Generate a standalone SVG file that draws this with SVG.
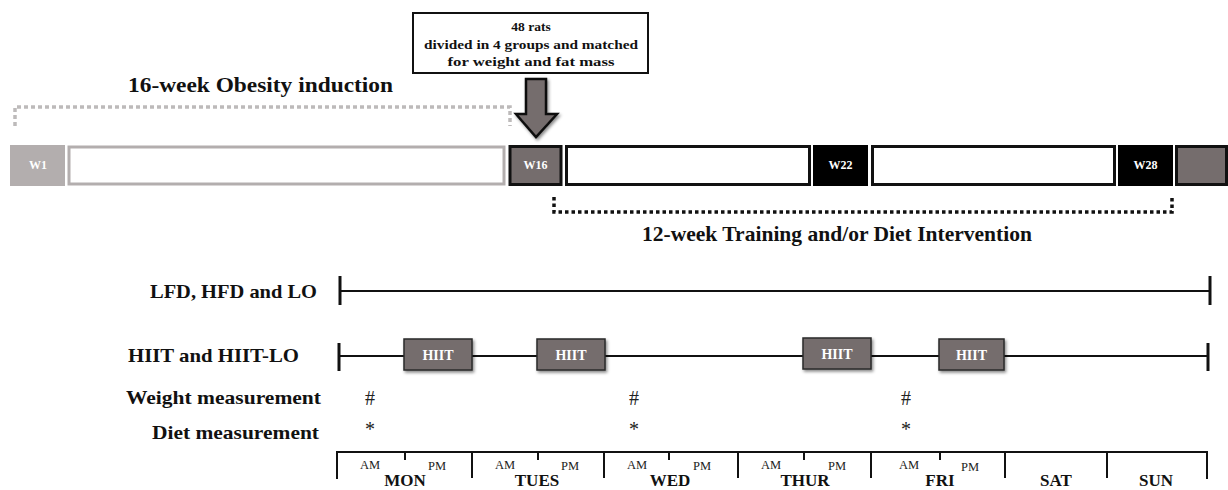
<svg xmlns="http://www.w3.org/2000/svg" width="1228" height="490" viewBox="0 0 1228 490">
<style>
text{font-family:"Liberation Serif","Times New Roman",serif;}
.b{font-weight:bold;fill:#111;}
.h{font-size:21px;font-weight:bold;fill:#111;}
.row{font-size:19px;font-weight:bold;fill:#111;text-anchor:end;}
.w{font-size:12px;font-weight:bold;fill:#fff;text-anchor:middle;}
.ap{font-size:12.5px;fill:#222;text-anchor:middle;}
.day{font-size:17px;font-weight:bold;fill:#111;text-anchor:middle;}
.hiit{fill:#756d6d;stroke:#2a2a2a;stroke-width:1.5;filter:url(#sh);}
.ht{font-size:14px;font-weight:bold;fill:#fff;text-anchor:middle;}
.ln{stroke:#111;stroke-width:2;fill:none;}
.tk{stroke:#111;stroke-width:3;fill:none;}
.mk{font-size:20px;fill:#222;text-anchor:middle;}
</style>
<defs>
<filter id="sh" x="-20%" y="-20%" width="150%" height="150%">
<feDropShadow dx="1.5" dy="2" stdDeviation="1.5" flood-color="#000" flood-opacity="0.45"/>
</filter>
</defs>
<rect width="1228" height="490" fill="#fff"/>

<g id="info-box">
<rect x="413" y="13" width="235" height="60" fill="#fff" stroke="#111" stroke-width="2"/>
<text class="b" x="531" y="31" font-size="13.5" text-anchor="middle">48 rats</text>
<text class="b" x="531" y="49" font-size="13.5" text-anchor="middle" textLength="214" lengthAdjust="spacingAndGlyphs">divided in 4 groups and matched</text>
<text class="b" x="531" y="66" font-size="13.5" text-anchor="middle" textLength="167" lengthAdjust="spacingAndGlyphs">for weight and fat mass</text>
</g>

<g id="arrow">
<path d="M526,79 L546,79 L546,114 L557,114 L536,137 L516,114 L526,114 Z" fill="#756d6d" stroke="#111" stroke-width="2.5" stroke-linejoin="miter" filter="url(#sh)"/>
</g>

<g id="obesity-label">
<text class="h" x="128" y="92" textLength="265" lengthAdjust="spacingAndGlyphs">16-week Obesity induction</text>
</g>
<g id="obesity-bracket">
<path d="M15,126 L15,107 L510,107 L510,126" fill="none" stroke="#bdbaba" stroke-width="3.5" stroke-dasharray="4,3"/>
</g>

<g id="timeline">
<g id="w1"><rect x="10" y="145" width="55" height="41" fill="#b3aeae"/><text class="w" x="38" y="169">W1</text></g>
<g id="phase1"><rect x="69" y="147" width="435" height="37" fill="#fff" stroke="#b3aeae" stroke-width="3"/></g>
<g id="w16"><rect x="510" y="146.5" width="51" height="38" fill="#756d6d" stroke="#111" stroke-width="3"/><text class="w" x="535.5" y="169">W16</text></g>
<g id="phase2"><rect x="566.5" y="146.5" width="243" height="38" fill="#fff" stroke="#111" stroke-width="3"/></g>
<g id="w22"><rect x="813" y="145" width="55" height="41" fill="#000"/><text class="w" x="840.5" y="169">W22</text></g>
<g id="phase3"><rect x="872.5" y="146.5" width="242" height="38" fill="#fff" stroke="#111" stroke-width="3"/></g>
<g id="w28"><rect x="1118" y="145" width="55" height="41" fill="#000"/><text class="w" x="1145.5" y="169">W28</text></g>
<g id="end"><rect x="1176.5" y="146.5" width="50" height="38" fill="#756d6d" stroke="#111" stroke-width="3"/></g>
</g>

<g id="intervention-bracket">
<path d="M554,197 L554,212 L1172,212 L1172,197" fill="none" stroke="#111" stroke-width="3.5" stroke-dasharray="3.5,3"/>
</g>
<g id="intervention-label">
<text class="h" x="642" y="241" textLength="390" lengthAdjust="spacingAndGlyphs">12-week Training and/or Diet Intervention</text>
</g>

<g id="row-labels">
<text class="row" x="317" y="298" textLength="167" lengthAdjust="spacingAndGlyphs">LFD, HFD and LO</text>
<text class="row" x="299" y="362" textLength="171" lengthAdjust="spacingAndGlyphs">HIIT and HIIT-LO</text>
<text class="row" x="321" y="404" textLength="195" lengthAdjust="spacingAndGlyphs">Weight measurement</text>
<text class="row" x="319" y="439" textLength="167" lengthAdjust="spacingAndGlyphs">Diet measurement</text>
</g>

<g id="connectors">
<line class="ln" x1="340" y1="291" x2="1210" y2="291"/>
<line class="tk" x1="340" y1="276" x2="340" y2="305"/>
<line class="tk" x1="1210" y1="276" x2="1210" y2="305"/>
<line class="ln" x1="339" y1="356" x2="1208" y2="356"/>
<line class="tk" x1="339" y1="343" x2="339" y2="371"/>
<line class="tk" x1="1208" y1="343" x2="1208" y2="371"/>
</g>

<g id="hiit-sessions">
<g id="hiit1"><rect class="hiit" x="404" y="339" width="68" height="31"/><text class="ht" x="438" y="359.5">HIIT</text></g>
<g id="hiit2"><rect class="hiit" x="537" y="339" width="68" height="31"/><text class="ht" x="571" y="359.5">HIIT</text></g>
<g id="hiit3"><rect class="hiit" x="803" y="338" width="68" height="31"/><text class="ht" x="837" y="358.5">HIIT</text></g>
<g id="hiit4"><rect class="hiit" x="939" y="339" width="65" height="31"/><text class="ht" x="971.5" y="359.5">HIIT</text></g>
</g>

<g id="measurements">
<text class="mk" x="370" y="405">#</text>
<text class="mk" x="634" y="405">#</text>
<text class="mk" x="906" y="405">#</text>
<text class="mk" x="370" y="436">*</text>
<text class="mk" x="634" y="436">*</text>
<text class="mk" x="906" y="436">*</text>
</g>

<g id="week-axis">
<path class="ln" d="M337,479 L337,452 L1207,452 L1207,479"/>
<g stroke="#111" stroke-width="2">
<line x1="472" y1="452" x2="472" y2="478"/>
<line x1="604" y1="452" x2="604" y2="478"/>
<line x1="738" y1="452" x2="738" y2="478"/>
<line x1="871" y1="452" x2="871" y2="478"/>
<line x1="1005" y1="452" x2="1005" y2="478"/>
<line x1="1107" y1="452" x2="1107" y2="478"/>
<line x1="405" y1="452" x2="405" y2="460"/>
<line x1="538" y1="452" x2="538" y2="460"/>
<line x1="669" y1="452" x2="669" y2="460"/>
<line x1="804" y1="452" x2="804" y2="460"/>
<line x1="940" y1="452" x2="940" y2="460"/>
</g>
<text class="ap" x="370" y="469">AM</text><text class="ap" x="437" y="470">PM</text>
<text class="ap" x="505" y="469">AM</text><text class="ap" x="570" y="470">PM</text>
<text class="ap" x="637" y="469">AM</text><text class="ap" x="702" y="470">PM</text>
<text class="ap" x="771" y="469">AM</text><text class="ap" x="837" y="470">PM</text>
<text class="ap" x="909" y="469">AM</text><text class="ap" x="970" y="471">PM</text>
<text class="day" x="405" y="486">MON</text>
<text class="day" x="537" y="486">TUES</text>
<text class="day" x="670" y="486">WED</text>
<text class="day" x="805" y="486">THUR</text>
<text class="day" x="940" y="486">FRI</text>
<text class="day" x="1056" y="486">SAT</text>
<text class="day" x="1156" y="486">SUN</text>
</g>
</svg>
